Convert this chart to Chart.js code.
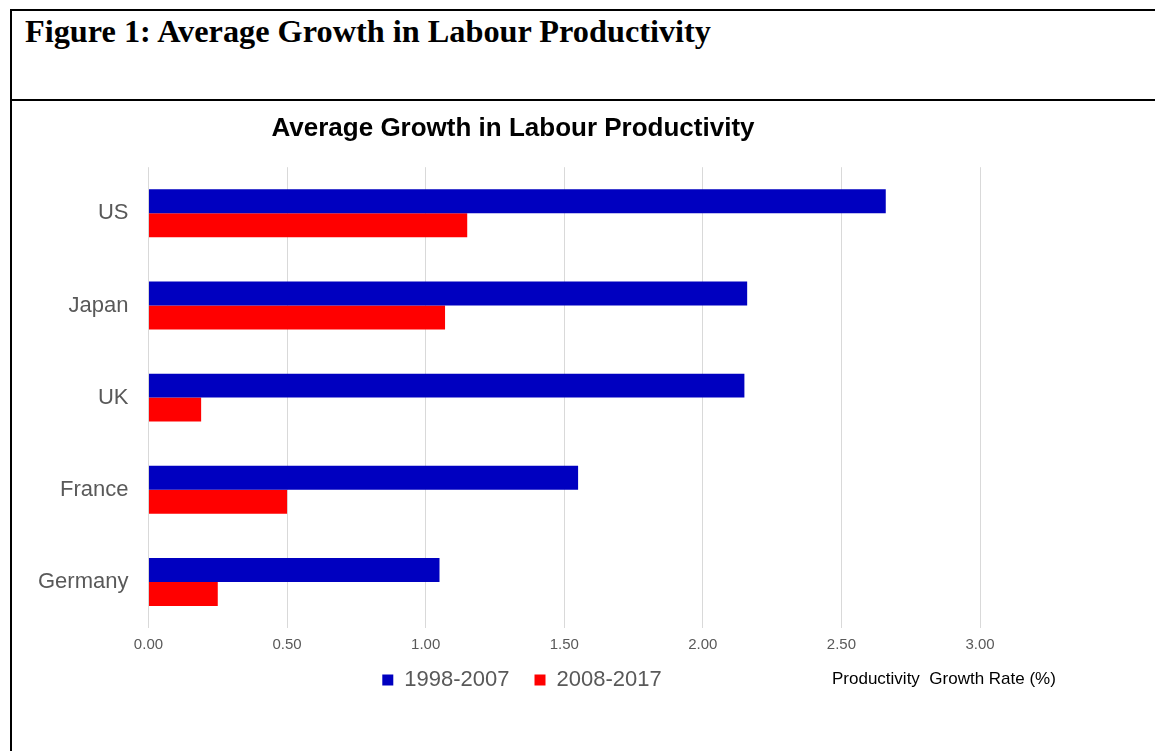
<!DOCTYPE html>
<html>
<head>
<meta charset="utf-8">
<script src="https://cdn.jsdelivr.net/npm/chart.js@4/dist/chart.umd.min.js"></script>
<style>
  html, body { margin: 0; padding: 0; background: #fff; overflow: hidden; width: 1155px; height: 751px; }
  .frame { position: absolute; left: 10px; top: 9px; width: 1300px; height: 900px; border-left: 2px solid #000; border-top: 2px solid #000; }
  .head { height: 88px; border-bottom: 2px solid #000; }
  .head h1 { margin: 0; padding: 2px 0 0 13px; font: bold 32.3px "Liberation Serif", "Times New Roman", serif; color: #000; }
  #chart { position: absolute; left: 13px; top: 102px; }
  .axis-title { position: absolute; left: 832px; top: 669px; font: 17px "Liberation Sans", Arial, sans-serif; color: #000; white-space: nowrap; }
</style>
</head>
<body>
<div class="frame"><div class="head"><h1>Figure 1: Average Growth in Labour Productivity</h1></div></div>
<canvas id="chart" width="1017" height="617"></canvas>
<div class="axis-title">Productivity&nbsp; Growth Rate (%)</div>
<script>
'use strict';

var COUNTRIES = ['US', 'Japan', 'UK', 'France', 'Germany'];
var PERIOD1 = [2.66, 2.16, 2.15, 1.55, 1.05];   // 1998-2007
var PERIOD2 = [1.15, 1.07, 0.19, 0.50, 0.25];   // 2008-2017
var SERIES_NAMES = ['1998-2007', '2008-2017'];
var COLORS = ['#0000C0', '#FF0000'];

// title and legend are not centred on the plot in the original
var nudge = {
  id: 'nudge',
  afterLayout: function (chart) {
    var lg = chart.legend;
    lg.top -= 18; lg.bottom -= 18;
    lg.left += 23; lg.right += 23;
    var tb = chart.titleBlock;
    tb.left += 14; tb.right += 14;
  }
};

var ctx = document.getElementById('chart').getContext('2d');
new Chart(ctx, {
  type: 'bar',
  data: {
    labels: COUNTRIES,
    datasets: [
      { label: SERIES_NAMES[0], data: PERIOD1, backgroundColor: COLORS[0] },
      { label: SERIES_NAMES[1], data: PERIOD2, backgroundColor: COLORS[1] }
    ]
  },
  options: {
    indexAxis: 'y',
    responsive: false,
    animation: false,
    devicePixelRatio: 1,
    categoryPercentage: 0.52,
    barPercentage: 1.0,
    layout: { padding: { left: 5, right: 50, top: 0, bottom: 0 } },
    plugins: {
      title: {
        display: true,
        text: 'Average Growth in Labour Productivity',
        font: { family: 'Liberation Sans, Arial, sans-serif', size: 26, weight: 'bold' },
        color: '#000',
        padding: { top: 11, bottom: 23 }
      },
      legend: {
        position: 'bottom',
        labels: {
          boxWidth: 11,
          boxHeight: 11,
          padding: 25,
          color: '#595959',
          font: { family: 'Liberation Sans, Arial, sans-serif', size: 22 }
        }
      },
      tooltip: { enabled: false }
    },
    scales: {
      x: {
        min: 0,
        max: 3,
        ticks: {
          stepSize: 0.5,
          padding: 8,
          color: '#595959',
          font: { family: 'Liberation Sans, Arial, sans-serif', size: 15 },
          callback: function (v) { return Number(v).toFixed(2); }
        },
        grid: { color: '#d9d9d9', drawTicks: false },
        border: { display: false }
      },
      y: {
        ticks: {
          padding: 20,
          color: '#595959',
          font: { family: 'Liberation Sans, Arial, sans-serif', size: 22 }
        },
        grid: { display: false, drawTicks: false },
        border: { display: false }
      }
    }
  },
  plugins: [nudge]
});
</script>
</body>
</html>
